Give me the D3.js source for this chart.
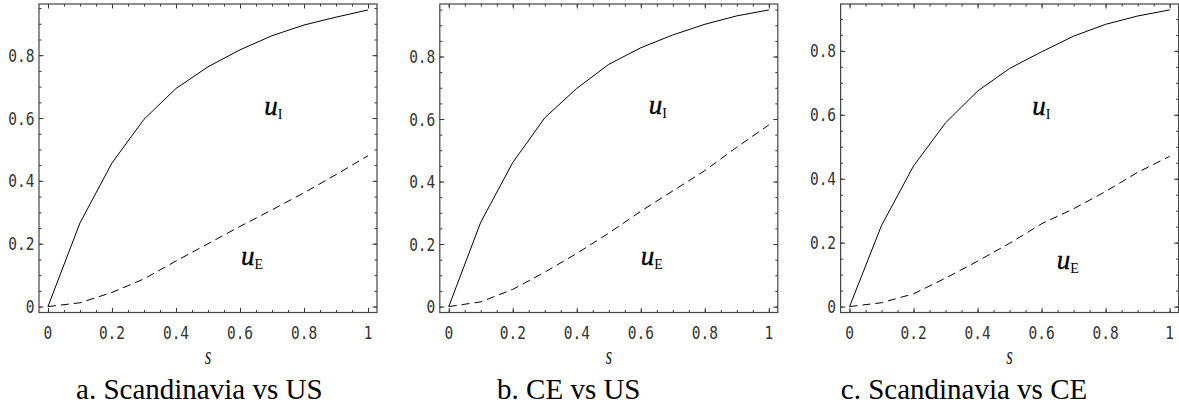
<!DOCTYPE html>
<html>
<head>
<meta charset="utf-8">
<script src="https://cdn.jsdelivr.net/npm/d3@7"></script>
<style>
  html, body { margin: 0; padding: 0; background: #fff; }
  svg { display: block; }
</style>
</head>
<body>
<svg id="chart" width="1179" height="407"></svg>
<script>
'use strict';

// Three framed panels: u_I (solid) and u_E (dashed) against s.

const sValues = [0, 0.1, 0.2, 0.3, 0.4, 0.5, 0.6, 0.7, 0.8, 0.9, 1];

const captions = ['a. Scandinavia vs US', 'b. CE vs US', 'c. Scandinavia vs CE'];

const uI_a = [0, 0.266, 0.457, 0.596, 0.694, 0.763, 0.817, 0.862, 0.896, 0.921, 0.944];
const uE_a = [0, 0.012, 0.045, 0.088, 0.145, 0.200, 0.255, 0.308, 0.362, 0.420, 0.480];

const uI_b = [0, 0.270, 0.461, 0.604, 0.698, 0.775, 0.828, 0.869, 0.903, 0.930, 0.949];
const uE_b = [0, 0.015, 0.055, 0.110, 0.170, 0.235, 0.305, 0.370, 0.435, 0.510, 0.581];

const uI_c = [0, 0.254, 0.440, 0.575, 0.674, 0.745, 0.797, 0.846, 0.883, 0.909, 0.928];
const uE_c = [0, 0.012, 0.040, 0.089, 0.142, 0.198, 0.259, 0.306, 0.360, 0.420, 0.470];

// label anchors in data coordinates [s, u]
const labelI = [[0.676, 0.610], [0.625, 0.615], [0.571, 0.600]];
const labelE = [[0.603, 0.131], [0.600, 0.133], [0.647, 0.119]];

const xTicks = [0, 0.2, 0.4, 0.6, 0.8, 1];
const yTicks = [0, 0.2, 0.4, 0.6, 0.8];
const xTickLabels = ['0', '0.2', '0.4', '0.6', '0.8', '1'];
const yTickLabels = ['0', '0.2', '0.4', '0.6', '0.8'];
const minorTicks = d3.range(0, 21).map((i) => i * 0.05);

const seriesI = [uI_a, uI_b, uI_c];
const seriesE = [uE_a, uE_b, uE_c];

const LAYOUT = {
  left0: 39, step: 400.8, top: 4, w: 338, h: 308.5,
  captionX: [199.3, 568.8, 964],
  captionY: 399
};

const SERIF = '"Liberation Serif", "Times New Roman", Times, serif';
const svg = d3.select('#chart');

function drawPanel(i) {
  const L = LAYOUT.left0 + i * LAYOUT.step;
  const T = LAYOUT.top;
  const W = LAYOUT.w, H = LAYOUT.h;
  const yMax = d3.max(seriesI[i].concat(seriesE[i]));

  const x = d3.scaleLinear().domain([-0.028, 1.028]).range([L, L + W]);
  const y = d3.scaleLinear().domain([-0.02 * yMax, 1.02 * yMax]).range([T + H, T]);

  const g = svg.append('g');

  // tick marks, all pointing inward, on every side
  const tickG = g.append('g');
  const xMinor = minorTicks.filter((t) => t <= 1.0001);
  const yMinor = minorTicks.filter((t) => t <= y.domain()[1]);

  const addAxis = (axisFn, scale, values, size, tx, ty) => {
    tickG.append('g')
      .attr('transform', `translate(${tx},${ty})`)
      .call(axisFn(scale).tickValues(values).tickSize(-size).tickSizeOuter(0).tickFormat(''))
      .call((a) => a.select('.domain').remove())
      .call((a) => a.selectAll('line').attr('stroke', '#333').attr('stroke-width', 1));
  };
  addAxis(d3.axisBottom, x, xMinor, 2.5, 0, T + H);
  addAxis(d3.axisBottom, x, xTicks, 4.5, 0, T + H);
  addAxis(d3.axisTop, x, xMinor, 2.5, 0, T);
  addAxis(d3.axisTop, x, xTicks, 4.5, 0, T);
  addAxis(d3.axisLeft, y, yMinor, 2.5, L, 0);
  addAxis(d3.axisLeft, y, yTicks, 4.5, L, 0);
  addAxis(d3.axisRight, y, yMinor, 2.5, L + W, 0);
  addAxis(d3.axisRight, y, yTicks, 4.5, L + W, 0);

  // frame
  g.append('rect')
    .attr('x', L).attr('y', T).attr('width', W).attr('height', H)
    .attr('fill', 'none').attr('stroke', '#444').attr('stroke-width', 1.2);

  // tick labels (the reference font is vertically stretched)
  const tickFont = '"DejaVu Sans Mono", monospace';
  g.selectAll('.xl').data(xTicks).join('g')
    .attr('transform', (d) => `translate(${x(d)},339.3) scale(1,1.22)`)
    .append('text')
    .attr('text-anchor', 'middle')
    .attr('font-family', tickFont).attr('font-size', 14.5).attr('fill', '#333')
    .text((d, k) => xTickLabels[k]);

  g.selectAll('.yl').data(yTicks).join('g')
    .attr('transform', (d) => `translate(${L - 4.5},${y(d) + 6.6}) scale(1,1.22)`)
    .append('text')
    .attr('text-anchor', 'end')
    .attr('font-family', tickFont).attr('font-size', 14.5).attr('fill', '#333')
    .text((d, k) => yTickLabels[k]);

  // axis title
  g.append('g')
    .attr('transform', `translate(${x(0.5)},364) scale(1,1.5)`)
    .append('text')
    .attr('text-anchor', 'middle')
    .attr('font-family', SERIF)
    .attr('font-style', 'italic').attr('font-size', 17).attr('fill', '#222')
    .text('s');

  // curves
  const line = d3.line().x((d, k) => x(sValues[k])).y((d) => y(d));
  g.append('path').datum(seriesI[i])
    .attr('d', line).attr('fill', 'none').attr('stroke', '#000').attr('stroke-width', 1);
  g.append('path').datum(seriesE[i])
    .attr('d', line).attr('fill', 'none').attr('stroke', '#000').attr('stroke-width', 1)
    .attr('stroke-dasharray', '8,5');

  // curve labels
  const addLabel = (pos, sub) => {
    const t = g.append('text')
      .attr('x', x(pos[0])).attr('y', y(pos[1]))
      .attr('font-family', SERIF)
      .attr('fill', '#000');
    t.append('tspan').attr('font-style', 'italic')
      .attr('font-size', 27).attr('stroke', '#000').attr('stroke-width', 0.4).text('u');
    t.append('tspan').attr('font-size', 14).attr('dy', 4).text(sub);
  };
  addLabel(labelI[i], 'I');
  addLabel(labelE[i], 'E');

  // caption
  svg.append('text')
    .attr('x', LAYOUT.captionX[i]).attr('y', LAYOUT.captionY)
    .attr('text-anchor', 'middle')
    .attr('font-family', SERIF)
    .attr('font-size', 29).attr('fill', '#000')
    .text(captions[i]);
}

for (let i = 0; i < 3; i++) drawPanel(i);
</script>
</body>
</html>
